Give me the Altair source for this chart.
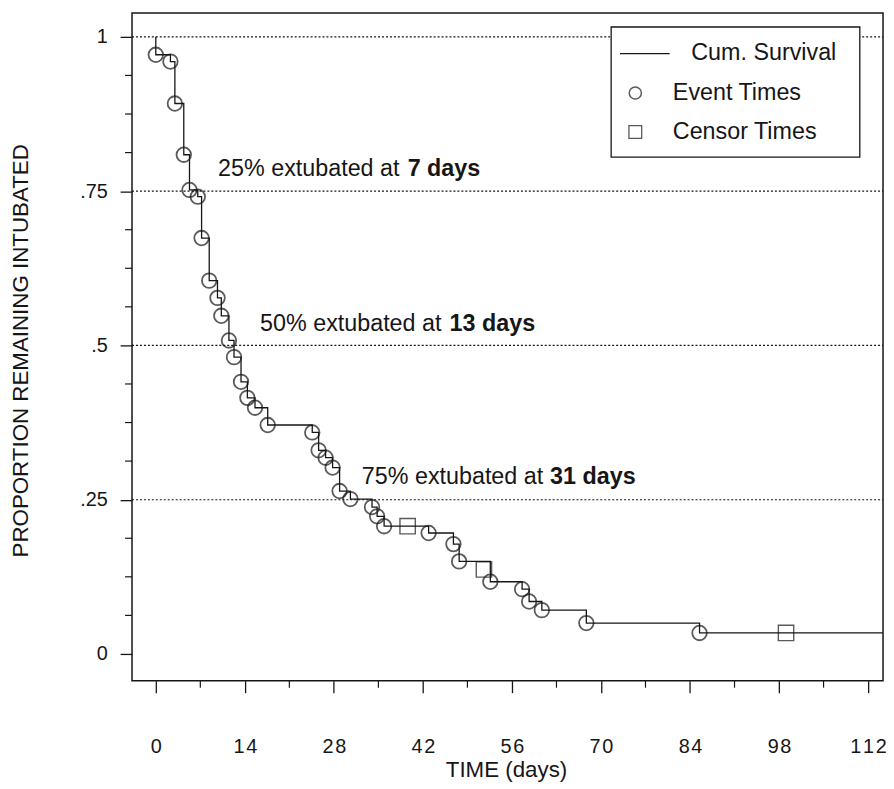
import altair as alt
import pandas as pd

# ---- data ----
event_days = [0.0, 2.3, 3.0, 4.4, 5.3, 6.6, 7.2, 8.4, 9.7, 10.3, 11.5, 12.3, 13.4, 14.4,
              15.6, 17.6, 24.6, 25.6, 26.7, 27.8, 28.9, 30.6, 34.0, 34.8, 35.9, 42.9,
              46.8, 47.7, 52.6, 57.6, 58.7, 60.7, 67.7, 85.5]
event_surv = [0.971, 0.960, 0.892, 0.809, 0.752, 0.741, 0.674, 0.605, 0.577, 0.548, 0.508,
              0.481, 0.441, 0.415, 0.399, 0.371, 0.359, 0.330, 0.318, 0.302, 0.264, 0.251,
              0.238, 0.223, 0.207, 0.196, 0.178, 0.150, 0.117, 0.105, 0.085, 0.071, 0.050,
              0.034]
censor_days = [39.6, 51.6, 99.1]
censor_surv = [0.207, 0.137, 0.034]
follow_up_end = 114.35

x_ticks = [0, 14, 28, 42, 56, 70, 84, 98, 112]
x_minor = [7, 21, 35, 49, 63, 77, 91, 105]
y_ticks = [0, 0.25, 0.5, 0.75, 1]
y_minor = [0.0625, 0.125, 0.1875, 0.3125, 0.375, 0.4375, 0.5625, 0.625, 0.6875,
           0.8125, 0.875, 0.9375]
ref_levels = [1, 0.75, 0.5, 0.25]

ann_pct = ["25% extubated at ", "50% extubated at ", "75% extubated at "]
ann_days = ["7 days", "13 days", "31 days"]
ann_x = [9.8, 16.4, 32.4]
ann_bold_x = [39.6, 46.2, 62.0]
ann_y = [0.785, 0.535, 0.286]

legend_labels = ["Cum. Survival", "Event Times", "Censor Times"]

X_DOMAIN = [-3.74, 114.35]
Y_DOMAIN = [-0.0434, 1.0386]
INK = "#161616"
FONT = "Liberation Sans"
TXT = 23.5

xs = alt.Scale(domain=X_DOMAIN, nice=False, zero=False)
ys = alt.Scale(domain=Y_DOMAIN, nice=False, zero=False)

line_df = pd.DataFrame({
    "t": [0.0] + event_days + [follow_up_end],
    "s": [1.0] + event_surv + [event_surv[-1]],
})
event_df = pd.DataFrame({"t": event_days, "s": event_surv})
censor_df = pd.DataFrame({"t": censor_days, "s": censor_surv})
ref_df = pd.DataFrame({"s": ref_levels})
xminor_df = pd.DataFrame({"t": x_minor})
yminor_df = pd.DataFrame({"s": y_minor})
ann_df = pd.DataFrame({"pct": ann_pct, "days": ann_days, "x": ann_x, "xb": ann_bold_x, "y": ann_y})

X = alt.X("t:Q", scale=xs, axis=alt.Axis(
    values=x_ticks, title="TIME (days)", tickSize=12, labelPadding=44,
    labelExpr="join(split(datum.label, ''), '\u200a')",
    labelFontSize=20, titleFontSize=22.5, titleFontWeight="normal",
    titleX=377, titleY=90, titleAlign="center", titleBaseline="middle"))
Y = alt.Y("s:Q", scale=ys, axis=alt.Axis(
    values=y_ticks, title="PROPORTION REMAINING INTUBATED", tickSize=12, labelPadding=13,
    labelExpr="datum.value == 0 ? '0' : datum.value == 1 ? '1' : replace(format(datum.value, '.2~f'), '0.', '.')",
    labelFontSize=20, titleFontSize=22.5, titleFontWeight="normal",
    titleX=-112, titleY=340, titleAlign="center", titleBaseline="middle"))

xq = alt.X("t:Q", scale=xs)
yq = alt.Y("s:Q", scale=ys)

refs = alt.Chart(ref_df).mark_rule(color=INK, strokeDash=[2, 2], strokeWidth=1.1).encode(
    y=yq, x=alt.value(0), x2=alt.value(757))

steps = alt.Chart(line_df).mark_line(interpolate="step-after", color=INK, strokeWidth=1.3).encode(x=X, y=Y)

events = alt.Chart(event_df).mark_point(shape="circle", size=215, color=INK, strokeWidth=1.8,
                                        filled=False).encode(x=xq, y=yq)
censors = alt.Chart(censor_df).mark_point(shape="square", size=240, color=INK, strokeWidth=1.4,
                                          filled=False).encode(x=xq, y=yq)

xminor = alt.Chart(xminor_df).mark_rule(color=INK, strokeWidth=1.2).encode(
    x=xq, y=alt.value(673), y2=alt.value(680))
yminor = alt.Chart(yminor_df).mark_rule(color=INK, strokeWidth=1.2).encode(
    y=yq, x=alt.value(-7), x2=alt.value(0))

ann_reg = alt.Chart(ann_df).mark_text(align="left", baseline="middle", fontSize=TXT, font=FONT,
                                      color=INK).encode(x=alt.X("x:Q", scale=xs), y=alt.Y("y:Q", scale=ys), text="pct:N")
ann_bold = alt.Chart(ann_df).mark_text(align="left", baseline="middle", fontSize=TXT, font=FONT,
                                       fontWeight="bold", color=INK).encode(
    x=alt.X("xb:Q", scale=xs), y=alt.Y("y:Q", scale=ys), text="days:N")

# legend box drawn in data coordinates
leg_box_df = pd.DataFrame({"x": [71.6], "x2": [110.7], "y": [1.016], "y2": [0.805]})
leg_box = alt.Chart(leg_box_df).mark_rect(fill="white", stroke=INK, strokeWidth=1.3).encode(
    x=alt.X("x:Q", scale=xs), x2="x2:Q", y=alt.Y("y:Q", scale=ys), y2="y2:Q")
leg_line_df = pd.DataFrame({"x": [73.0], "x2": [80.8], "y": [0.973]})
leg_line = alt.Chart(leg_line_df).mark_rule(color=INK, strokeWidth=1.2).encode(
    x=alt.X("x:Q", scale=xs), x2="x2:Q", y=alt.Y("y:Q", scale=ys))
leg_sym_df = pd.DataFrame({"x": [75.4, 75.4], "y": [0.909, 0.846]})
leg_circle = alt.Chart(leg_sym_df.iloc[[0]]).mark_point(shape="circle", size=150, color=INK,
                                                       strokeWidth=1.5).encode(
    x=alt.X("x:Q", scale=xs), y=alt.Y("y:Q", scale=ys))
leg_square = alt.Chart(leg_sym_df.iloc[[1]]).mark_point(shape="square", size=165, color=INK,
                                                       strokeWidth=1.3).encode(
    x=alt.X("x:Q", scale=xs), y=alt.Y("y:Q", scale=ys))
leg_text_df = pd.DataFrame({"label": legend_labels, "x": [84.2, 81.3, 81.3], "y": [0.973, 0.909, 0.846]})
leg_text = alt.Chart(leg_text_df).mark_text(align="left", baseline="middle", fontSize=TXT, font=FONT,
                                            color=INK).encode(
    x=alt.X("x:Q", scale=xs), y=alt.Y("y:Q", scale=ys), text="label:N")

chart = alt.layer(
    refs, steps, events, censors, xminor, yminor, ann_reg, ann_bold,
    leg_box, leg_line, leg_circle, leg_square, leg_text
).properties(
    width=757, height=673,
    autosize=alt.AutoSizeParams(type="none"),
    padding={"left": 125, "top": 2, "right": 3, "bottom": 101},
    background="white",
).configure_view(
    stroke=INK, strokeWidth=1.5
).configure_axis(
    grid=False, domain=False, tickColor=INK, tickWidth=1.3, labelColor=INK, titleColor=INK,
    labelFont=FONT, titleFont=FONT
)

chart.save("out.html", embed_options={"renderer": "svg", "actions": False})
